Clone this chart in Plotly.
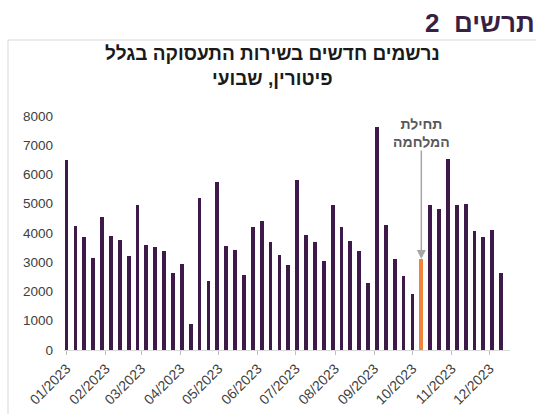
import pandas as pd
import plotly.graph_objects as go

# Weekly dates (week start), 2023
week_start = "2023-01-01"
n_weeks = 50
weeks = pd.date_range(week_start, periods=n_weeks, freq="7D")

values = [6500, 4230, 3870, 3150, 4540, 3900, 3750, 3230, 4950, 3600,
          3530, 3390, 2620, 2950, 890, 5180, 2370, 5760, 3560, 3420,
          2580, 4210, 4410, 3700, 3260, 2920, 5800, 3940, 3700, 3030,
          4950, 4210, 3730, 3390, 2300, 7620, 4280, 3120, 2540, 1930,
          3110, 4950, 4820, 6540, 4950, 4980, 4070, 3870, 4110, 2620]

war_week = "2023-10-08"
purple = "#3d1a4a"
orange = "#F0843A"
colors = [orange if d == pd.Timestamp(war_week) else purple for d in weeks]

header_text = "2\u00a0\u00a0תרשים"
title_line1 = "נרשמים חדשים בשירות התעסוקה בגלל"
title_line2 = "פיטורין, שבועי"
annot_text = "תחילת<br>המלחמה"
y_ticks = [0, 1000, 2000, 3000, 4000, 5000, 6000, 7000, 8000]

font_family = "Liberation Sans, Arial, sans-serif"

fig = go.Figure()
fig.add_trace(go.Bar(
    x=weeks, y=values, marker=dict(color=colors, line=dict(width=0)),
    width=3 * 86400000, showlegend=False,
))

W, H = 536, 414
L, R, T, B = 64, 26, 116, 64
pw, ph = W - L - R, H - T - B

def px_x(x):
    return (x - L) / pw

def px_y(y):
    return (H - B - y) / ph

fig.update_layout(
    width=W, height=H,
    margin=dict(l=L, r=R, t=T, b=B, autoexpand=False),
    paper_bgcolor="white", plot_bgcolor="white",
    font=dict(family=font_family, color="#404040", size=13),
    bargap=0,
    xaxis=dict(
        type="date", automargin=False,
        range=["2022-12-30", "2023-12-17"],
        tickmode="linear", tick0="2023-01-01", dtick="M1",
        tickformat="%m/%Y", tickangle=-45,
        ticks="outside", ticklen=4, tickcolor="#bfbfbf",
        showline=True, linecolor="#d9d9d9", linewidth=1,
        showgrid=False, zeroline=False,
        tickfont=dict(size=14, color="#404040"),
    ),
    yaxis=dict(
        automargin=False,
        range=[0, 8000], tickvals=y_ticks,
        showgrid=False, zeroline=False, showline=False,
        ticks="", ticklabelstandoff=10,
        tickfont=dict(size=13.5, color="#404040"),
    ),
)

# frame lines
fig.add_shape(type="line", xref="paper", yref="paper",
              x0=px_x(8), x1=px_x(540), y0=px_y(40), y1=px_y(40),
              line=dict(color="#d9d9d9", width=1))
fig.add_shape(type="line", xref="paper", yref="paper",
              x0=px_x(8), x1=px_x(8), y0=px_y(40), y1=px_y(420),
              line=dict(color="#d9d9d9", width=1))

# header
fig.add_annotation(text=header_text, xref="paper", yref="paper",
                   x=px_x(423), y=px_y(23), xanchor="left", yanchor="middle",
                   showarrow=False,
                   font=dict(family=font_family, size=26, color="#3a1f44", weight="bold"))
# chart title
fig.add_annotation(text=title_line1, xref="paper", yref="paper",
                   x=px_x(272), y=px_y(53), xanchor="center", yanchor="middle",
                   showarrow=False,
                   font=dict(family=font_family, size=19, color="#1a1a1a", weight="bold"))
fig.add_annotation(text=title_line2, xref="paper", yref="paper",
                   x=px_x(272), y=px_y(79), xanchor="center", yanchor="middle",
                   showarrow=False,
                   font=dict(family=font_family, size=19, color="#1a1a1a", weight="bold"))

# war start annotation with arrow
war_val = values[list(weeks).index(pd.Timestamp(war_week))]
fig.add_annotation(x=war_week, y=war_val, xref="x", yref="y",
                   text="", showarrow=True, arrowhead=2, arrowsize=1.2,
                   arrowwidth=1.5, arrowcolor="#a6a6a6",
                   ax=0, ay=-110)
fig.add_annotation(x=war_week, xref="x", yref="paper", y=px_y(133),
                   text=annot_text, showarrow=False,
                   xanchor="center", yanchor="middle",
                   font=dict(family=font_family, size=14, color="#595959", weight="bold"))

fig.write_html("out.html", config={"displayModeBar": False},
               post_script="document.body.style.margin='0';document.body.style.overflow='hidden';")
